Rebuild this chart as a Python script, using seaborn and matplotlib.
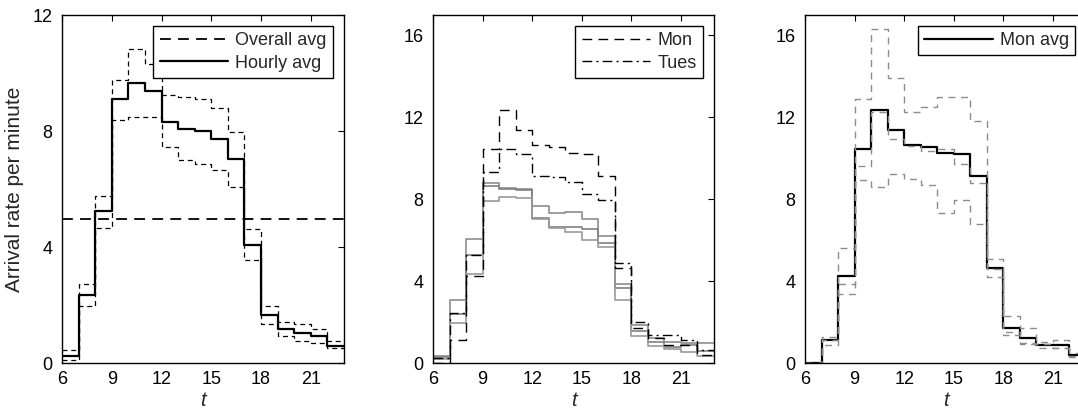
import matplotlib
matplotlib.use("Agg")
import matplotlib.pyplot as plt
import numpy as np
import pandas as pd
import seaborn as sns

# hour of day, each value holds for [h, h+1)
hours = list(range(6, 23))

# left panel: all days
hourly_avg = [0.23, 2.36, 5.24, 9.09, 9.67, 9.39, 8.32, 8.08, 8.0, 7.71, 7.03,
              4.06, 1.65, 1.16, 1.05, 0.93, 0.6]
hourly_hi = [0.44, 2.73, 5.75, 9.76, 10.82, 10.31, 9.24, 9.18, 9.11, 8.78, 7.97,
             4.63, 1.98, 1.4, 1.33, 1.16, 0.76]
hourly_lo = [0.09, 1.98, 4.67, 8.38, 8.49, 8.47, 7.46, 7.0, 6.86, 6.67, 6.08,
             3.54, 1.36, 0.92, 0.76, 0.69, 0.53]
overall_avg = 4.97

# middle panel: day-of-week averages
mon_avg = [0.0, 1.11, 4.27, 10.46, 12.38, 11.39, 10.65, 10.54, 10.28, 10.21, 9.12,
           4.62, 1.71, 1.22, 0.9, 0.86, 0.38]
tue_avg = [0.25, 2.45, 5.3, 9.33, 10.43, 10.2, 9.12, 9.08, 8.85, 8.27, 7.97,
           4.9, 2.0, 1.36, 1.35, 1.1, 0.65]
wed_avg = [0.35, 3.08, 6.05, 8.8, 8.54, 8.48, 7.69, 7.32, 7.38, 7.05, 6.2,
           3.88, 1.88, 1.2, 1.02, 1.0, 1.0]
thu_avg = [0.3, 2.4, 5.3, 8.67, 8.48, 8.46, 7.07, 6.66, 6.66, 6.55, 5.84,
           3.65, 1.55, 1.05, 0.8, 0.9, 0.6]
fri_avg = [0.2, 1.93, 4.34, 7.9, 8.1, 8.07, 7.04, 6.58, 6.38, 6.0, 5.65,
           3.08, 1.31, 0.85, 0.66, 0.53, 0.33]

# right panel: individual Mondays
mon_1 = [0.0, 1.27, 5.6, 12.9, 16.3, 13.9, 12.25, 12.53, 12.98, 13.0, 11.8,
         5.09, 2.32, 1.71, 1.03, 1.11, 0.5]
mon_2 = [0.0, 0.86, 3.85, 9.64, 12.25, 10.95, 10.6, 10.37, 10.46, 9.72, 8.81,
         4.19, 1.35, 0.95, 0.75, 0.72, 0.33]
mon_3 = [0.0, 1.1, 3.39, 8.94, 8.6, 9.23, 8.99, 8.7, 7.31, 7.94, 6.79,
         4.58, 1.5, 1.0, 0.92, 0.75, 0.31]

FONT = ["Liberation Sans", "DejaVu Sans"]


def steps(ax, vals, **kw):
    # last hour block is closed at 23
    df = pd.DataFrame({"t": hours + [hours[-1] + 1], "v": list(vals) + [vals[-1]]})
    sns.lineplot(data=df, x="t", y="v", ax=ax, drawstyle="steps-post",
                 estimator=None, sort=False, **kw)


def style_axes(ax, ymax, yticks):
    ax.set_xlim(6, 23)
    ax.set_ylim(0, ymax)
    ax.set_xticks([6, 9, 12, 15, 18, 21])
    ax.set_yticks(yticks)
    ax.tick_params(direction="in", top=True, right=True, length=4, width=0.8,
                   labelsize=13, colors="black")
    ax.tick_params(axis="x", pad=6)
    ax.tick_params(axis="y", pad=7)
    for s in ax.spines.values():
        s.set_visible(True)
        s.set_linewidth(1.0)
        s.set_color("black")
    ax.set_xlabel("t", fontsize=14.5, fontstyle="italic", labelpad=2)
    ax.set_ylabel("")


def make_legend(ax):
    leg = ax.legend(loc="upper right", fontsize=13, handlelength=3.8,
                    fancybox=False, framealpha=1, edgecolor="black",
                    borderaxespad=0.6, handletextpad=0.4, labelspacing=0.3,
                    borderpad=0.35)
    leg.get_frame().set_linewidth(1.0)


sns.set_theme(style="white")
plt.rcParams["font.family"] = FONT

fig = plt.figure(figsize=(10.78, 4.18), dpi=100)
ax1 = fig.add_axes([62 / 1078, 55 / 418, 282 / 1078, 348 / 418])
ax2 = fig.add_axes([433 / 1078, 55 / 418, 281 / 1078, 348 / 418])
ax3 = fig.add_axes([805 / 1078, 55 / 418, 281 / 1078, 348 / 418])

# left
steps(ax1, hourly_hi, color="black", lw=0.9, linestyle=(0, (4, 3)))
steps(ax1, hourly_lo, color="black", lw=0.9, linestyle=(0, (4, 3)))
ax1.axhline(overall_avg, color="black", lw=1.3, linestyle=(0, (6, 4)),
            label="Overall avg")
steps(ax1, hourly_avg, color="black", lw=1.6, label="Hourly avg")
style_axes(ax1, 12, [0, 4, 8, 12])
ax1.set_ylabel("Arrival rate per minute", fontsize=15, labelpad=6)
make_legend(ax1)

# middle
steps(ax2, wed_avg, color="0.55", lw=1.2)
steps(ax2, thu_avg, color="0.5", lw=1.2)
steps(ax2, fri_avg, color="0.6", lw=1.2)
steps(ax2, mon_avg, color="black", lw=1.0, linestyle=(0, (7, 4.5)), label="Mon")
steps(ax2, tue_avg, color="black", lw=1.0, linestyle=(0, (7, 3, 1.5, 3)), label="Tues")
style_axes(ax2, 17, [0, 4, 8, 12, 16])
make_legend(ax2)

# right
steps(ax3, mon_avg, color="black", lw=1.6, label="Mon avg")
for m in (mon_1, mon_2, mon_3):
    steps(ax3, m, color="0.55", lw=1.0, linestyle=(0, (5, 4)))
style_axes(ax3, 17, [0, 4, 8, 12, 16])
make_legend(ax3)

fig.savefig("out.png", dpi=100)
